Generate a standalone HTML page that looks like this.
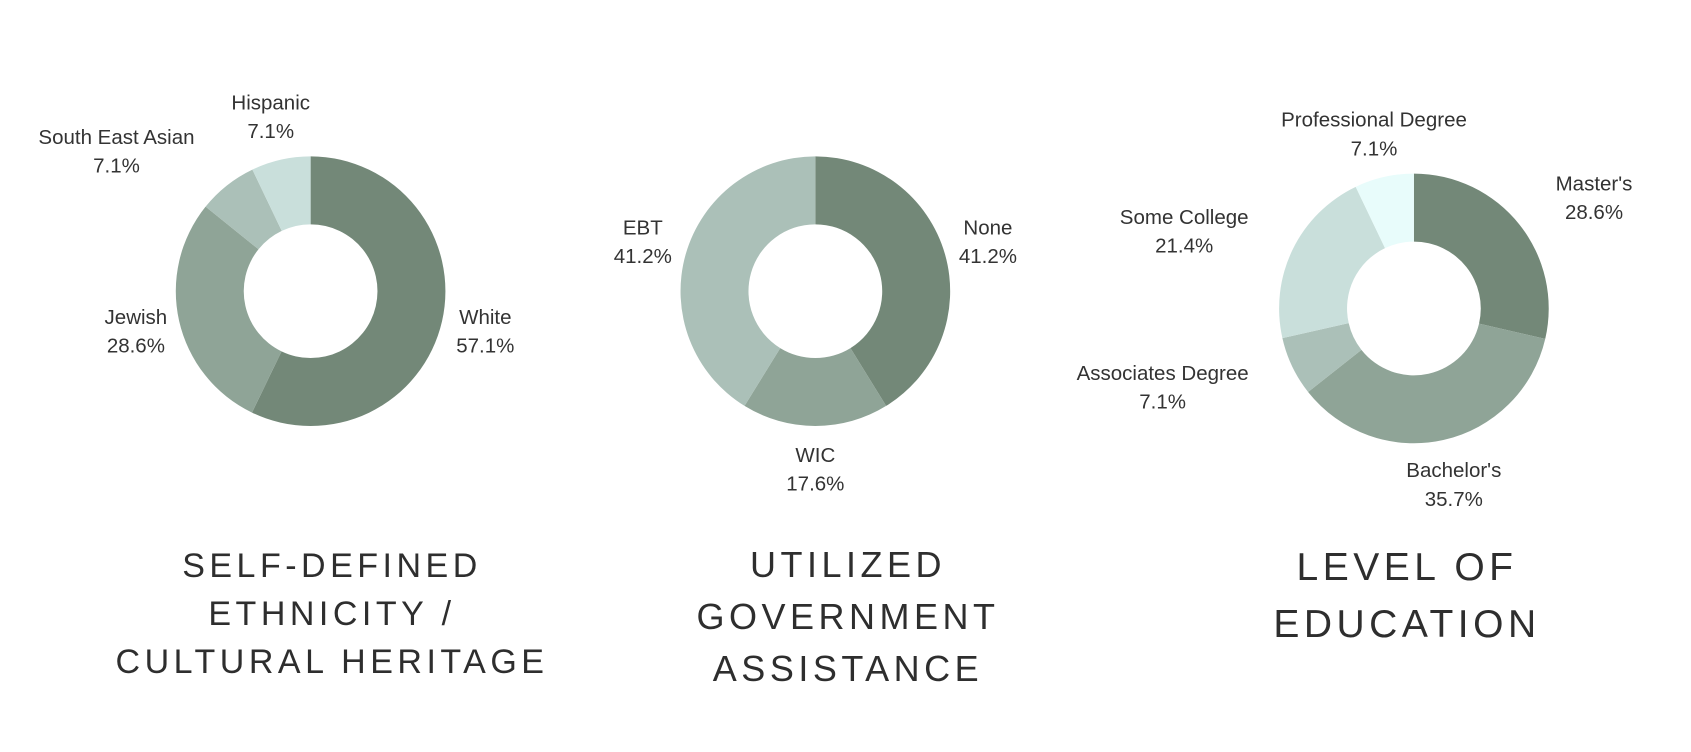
<!DOCTYPE html>
<html><head><meta charset="utf-8"><style>
html,body{margin:0;padding:0;background:#fff;}
svg{display:block;}
.lbl{font-family:"Liberation Sans",sans-serif;font-size:20.5px;fill:#333;text-anchor:middle;}
.ttl{font-family:"Liberation Sans",sans-serif;fill:#2e2e2e;text-anchor:middle;letter-spacing:4.5px;}
</style></head><body>
<svg id="chart" width="1691" height="752" viewBox="0 0 1691 752" xmlns="http://www.w3.org/2000/svg">
<text class="ttl" font-size="34" x="332" y="577">SELF-DEFINED</text>
<text class="ttl" font-size="34" x="332" y="625">ETHNICITY /</text>
<text class="ttl" font-size="34" x="332" y="673">CULTURAL HERITAGE</text>
<text class="ttl" font-size="36" x="848" y="577">UTILIZED</text>
<text class="ttl" font-size="36" x="848" y="629">GOVERNMENT</text>
<text class="ttl" font-size="36" x="848" y="681">ASSISTANCE</text>
<text class="ttl" font-size="39" x="1407" y="580">LEVEL OF</text>
<text class="ttl" font-size="39" x="1407" y="637">EDUCATION</text>
</svg>
<script>
const ethCats=["White","Jewish","South East Asian","Hispanic"];
const ethVals=[57.1,28.6,7.1,7.1];
const govCats=["None","WIC","EBT"];
const govVals=[41.2,17.6,41.2];
const eduCats=["Master's","Bachelor's","Associates Degree","Some College","Professional Degree"];
const eduVals=[28.6,35.7,7.1,21.4,7.1];

const S=1.0785;
const svg=document.getElementById('chart');
const NS="http://www.w3.org/2000/svg";
const charts=[
 {cats:ethCats,vals:ethVals,cx:288,cy:270,cols:["#738878","#8fa497","#abc0b8","#c9dfdb"],
  lp:[[450,294],[126,294],[108,127],[251,95]],name:'ethnicity'},
 {cats:govCats,vals:govVals,cx:756,cy:270,cols:["#738878","#8fa497","#abc0b8"],
  lp:[[916,211],[756,422],[596,211]],name:'assistance'},
 {cats:eduCats,vals:eduVals,cx:1311,cy:286,cols:["#738878","#8fa497","#abc0b8","#c9dfdb","#e8fcfb"],
  lp:[[1478,170],[1348,436],[1078,346],[1098,201],[1274,111]],name:'education'}
];
function pt(cx,cy,r,a){return [cx+r*Math.sin(a),cy-r*Math.cos(a)];}
charts.forEach(c=>{
 const cx=c.cx*S,cy=c.cy*S,R=125*S,r=62*S;
 const tot=c.vals.reduce((a,b)=>a+b,0);
 let a0=0;
 c.vals.forEach((v,i)=>{
  const a1=a0+v/tot*2*Math.PI;
  const large=(a1-a0)>Math.PI?1:0;
  const p1=pt(cx,cy,R,a0),p2=pt(cx,cy,R,a1),p3=pt(cx,cy,r,a1),p4=pt(cx,cy,r,a0);
  const p=document.createElementNS(NS,'path');
  p.setAttribute('d',`M${p1}A${R},${R} 0 ${large} 1 ${p2}L${p3}A${r},${r} 0 ${large} 0 ${p4}Z`);
  p.setAttribute('fill',c.cols[i]);
  
  
  svg.appendChild(p);
  a0=a1;
  const [lx,ly]=c.lp[i];
  const t1=document.createElementNS(NS,'text');
  t1.setAttribute('class','lbl');t1.setAttribute('x',lx*S);t1.setAttribute('y',ly*S+7);
  t1.textContent=c.cats[i];
  
  
  svg.appendChild(t1);
  const t2=document.createElementNS(NS,'text');
  t2.setAttribute('class','lbl');t2.setAttribute('x',lx*S);t2.setAttribute('y',(ly+26.5)*S+7);
  t2.textContent=v.toFixed(1)+'%';
  
  
  svg.appendChild(t2);
 });
});
</script>
</body></html>
